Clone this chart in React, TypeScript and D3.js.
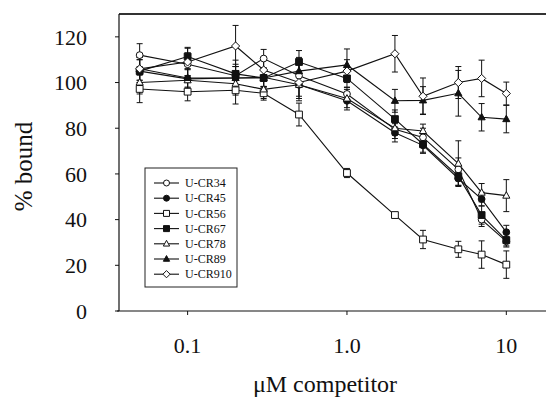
import React from 'react'
import * as d3 from 'd3'

// competitor concentrations (µM)
const concentrations = [0.05, 0.1, 0.2, 0.3, 0.5, 1.0, 2.0, 3.0, 5.0, 7.0, 10]

const seriesNames = ['U-CR34', 'U-CR45', 'U-CR56', 'U-CR67', 'U-CR78', 'U-CR89', 'U-CR910']
const markerShapes = ['circle', 'circle', 'square', 'square', 'triangle', 'triangle', 'diamond']
const markerFilled = [false, true, false, true, false, true, false]

// % bound, one array per series
const cr34 = [112, 108, 103, 110.5, 103, 95, 79.5, 76, 62, 40, 30.5]
const cr45 = [105, 101.6, 102, 102.3, 99, 92, 78, 72.5, 58, 49, 34.5]
const cr56 = [97.2, 96, 96.6, 95.3, 86, 60.4, 42, 31.3, 27, 24.7, 20.3]
const cr67 = [105, 111.4, 103.8, 102, 109, 101.8, 84, 73, 59, 42, 31]
const cr78 = [100, 101, 99.5, 97, 99, 93, 80, 78.8, 64.5, 51.8, 50.5]
const cr89 = [106, 102, 102, 102, 105, 107.7, 92, 92.2, 95.3, 84.8, 84]
const cr910 = [106, 109, 116, 105.5, 100, 105, 112.6, 94, 100, 101.8, 95.2]

// error bar half-lengths
const err34 = [5, 5, 5, 4, 5, 3, 4, 4, 5, 3, 2]
const err45 = [5, 4, 5, 4, 5, 4, 4, 3, 3, 3, 3]
const err56 = [6, 4, 6, 3, 5, 2, 1, 4, 3.5, 6, 6]
const err67 = [5, 4, 6, 4, 5, 4, 4, 4, 4, 4, 3]
const err78 = [5, 5, 5, 4, 6, 4, 3, 3, 10, 4, 7]
const err89 = [5, 4, 5, 4, 6, 7, 5, 6, 10, 6, 6]
const err910 = [5, 6, 9, 5, 8, 5, 8, 8, 7, 8, 5]

const values = [cr34, cr45, cr56, cr67, cr78, cr89, cr910]
const errors = [err34, err45, err56, err67, err78, err89, err910]

const xTicks = [0.1, 1.0, 10]
const xTickLabels = ['0.1', '1.0', '10']
const yTicks = [0, 20, 40, 60, 80, 100, 120]

const W = 546
const H = 398
const FONT = 'Times New Roman, Liberation Serif, serif'

function markerPath(shape: string, r: number) {
  if (shape === 'circle') return d3.symbol(d3.symbolCircle, Math.PI * r * r)()
  if (shape === 'square') return `M${-r},${-r}H${r}V${r}H${-r}Z`
  if (shape === 'triangle') return `M0,${-r * 1.15}L${r * 1.05},${r * 0.75}L${-r * 1.05},${r * 0.75}Z`
  return `M0,${-r * 1.2}L${r * 1.2},0L0,${r * 1.2}L${-r * 1.2},0Z`
}

export default function App() {
  const margin = { top: 14, left: 119, bottom: 311, right: 550 }
  const x = d3.scaleLog().domain([0.0371, 18.8]).range([margin.left, margin.right])
  const y = d3.scaleLinear().domain([0, 130]).range([margin.bottom, margin.top])

  const line = d3.line<number>()
    .x((_, i) => x(concentrations[i]))
    .y(d => y(d))

  const legend = { x: 145, y: 168, w: 92, h: 119, rowH: 15.2 }

  return (
    <div style={{ position: 'fixed', left: 0, top: 0, background: '#fff', fontFamily: FONT }}>
      <svg width={W} height={H} style={{ display: 'block' }} fontFamily={FONT}>
        <rect width={W} height={H} fill="#fff" />

        {/* frame */}
        <line x1={margin.left} x2={W} y1={margin.top} y2={margin.top} stroke="#333" strokeWidth={2} />
        <line x1={margin.left} x2={margin.left} y1={margin.top} y2={margin.bottom} stroke="#111" strokeWidth={1.2} />
        <line x1={margin.left - 2} x2={W} y1={margin.bottom} y2={margin.bottom} stroke="#111" strokeWidth={1.2} />

        {/* y axis */}
        {yTicks.map(t => (
          <g key={t}>
            <line x1={margin.left - 4} x2={margin.left} y1={y(t)} y2={y(t)} stroke="#111" />
            <text x={margin.left - 32} y={y(t)} dy="0.35em" textAnchor="end" fontSize={22} fill="#111">{t}</text>
          </g>
        ))}
        <text transform={`translate(32,${(margin.top + margin.bottom) / 2 + 4}) rotate(-90)`} textAnchor="middle" fontSize={25} fill="#111">% bound</text>

        {/* x axis */}
        {xTicks.map((t, i) => (
          <g key={t}>
            <line x1={x(t)} x2={x(t)} y1={margin.bottom} y2={margin.bottom + 4} stroke="#111" />
            <text x={x(t)} y={353} textAnchor="middle" fontSize={22} fill="#111">{xTickLabels[i]}</text>
          </g>
        ))}
        <text x={325} y={392} textAnchor="middle" fontSize={24} fill="#111">μM competitor</text>

        {/* series lines */}
        {values.map((v, s) => (
          <path key={'l' + s} d={line(v) || ''} fill="none" stroke="#111" strokeWidth={1.1} />
        ))}

        {/* error bars */}
        {values.map((v, s) => (
          <g key={'e' + s} stroke="#111" strokeWidth={1}>
            {v.map((d, i) => {
              const cx = x(concentrations[i])
              const y0 = y(d - errors[s][i])
              const y1 = y(d + errors[s][i])
              return (
                <g key={i}>
                  <line x1={cx} x2={cx} y1={y0} y2={y1} />
                  <line x1={cx - 3} x2={cx + 3} y1={y0} y2={y0} />
                  <line x1={cx - 3} x2={cx + 3} y1={y1} y2={y1} />
                </g>
              )
            })}
          </g>
        ))}

        {/* markers */}
        {values.map((v, s) => (
          <g key={'m' + s}>
            {v.map((d, i) => (
              <path key={i} transform={`translate(${x(concentrations[i])},${y(d)})`}
                d={markerPath(markerShapes[s], 3.4) || ''}
                fill={markerFilled[s] ? '#111' : '#fff'} stroke="#111" strokeWidth={1} />
            ))}
          </g>
        ))}

        {/* legend */}
        <rect x={legend.x} y={legend.y} width={legend.w} height={legend.h} fill="#fff" stroke="#222" strokeWidth={1} />
        {seriesNames.map((name, s) => {
          const ly = legend.y + 15 + s * legend.rowH
          return (
            <g key={name}>
              <line x1={legend.x + 9} x2={legend.x + 34} y1={ly} y2={ly} stroke="#111" strokeWidth={1.1} />
              <path transform={`translate(${legend.x + 21.5},${ly})`} d={markerPath(markerShapes[s], 3) || ''}
                fill={markerFilled[s] ? '#111' : '#fff'} stroke="#111" strokeWidth={1} />
              <text x={legend.x + 40} y={ly} dy="0.35em" fontSize={12} fill="#111">{name}</text>
            </g>
          )
        })}
      </svg>
    </div>
  )
}
